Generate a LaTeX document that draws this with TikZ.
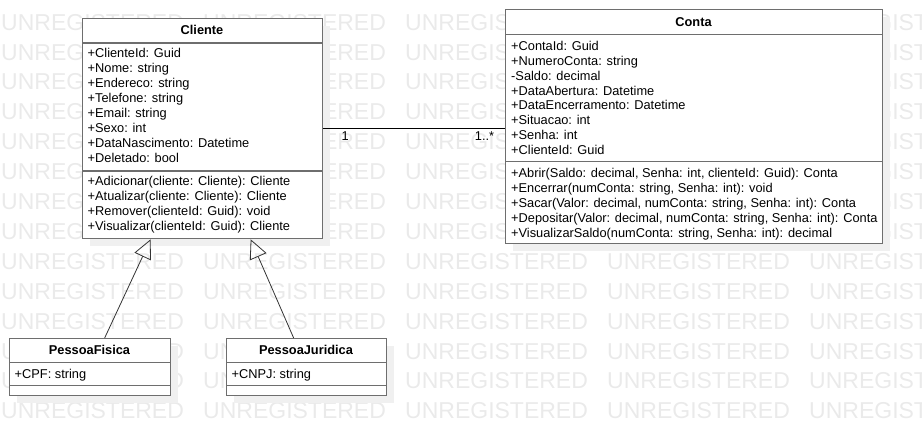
\documentclass[tikz,border=0pt]{standalone}
\usepackage{fontspec}
\setmainfont{Liberation Sans}
\usetikzlibrary{arrows.meta,shadows}
\definecolor{borda}{RGB}{110,110,110}
\definecolor{marca}{RGB}{234,234,234}

\begin{document}
\begin{tikzpicture}[x=1pt,y=-1pt,
  classe/.style={draw=borda, line width=1.3pt, fill=white, anchor=north west, inner sep=0pt,
    drop shadow={shadow xshift=7pt, shadow yshift=-7pt, fill=black!6, opacity=1}},
  titulo/.style={anchor=base, inner sep=0pt, font=\fontsize{12.8}{15}\selectfont\bfseries},
  membro/.style={anchor=base west, inner sep=0pt, font=\fontsize{12.8}{15}\selectfont},
  linha/.style={draw=borda, line width=1.3pt},
  heranca/.style={draw=black!80, line width=0.8pt, -{Triangle[open, length=19pt, width=18pt]}},
  wm/.style={anchor=base west, inner sep=0pt, text=marca, font=\fontsize{23}{23}\selectfont}]
\useasboundingbox (0,0) rectangle (922,435);
\begin{scope}
\clip (0,0) rectangle (922,435);
\foreach \r in {0,...,13}
  \foreach \c in {0,...,4}
    \node[wm] (wm-\r-\c) at (1+202*\c, 30.2+29.9*\r) {UNREGISTERED};
\end{scope}

\node[classe, minimum width=240, minimum height=220] (cliente) at (82,18) {};
\node[classe, minimum width=377, minimum height=234] (conta) at (505,9) {};
\node[classe, minimum width=161, minimum height=57] (pf) at (9,338) {};
\node[classe, minimum width=160, minimum height=57] (pj) at (226,338) {};

\draw[linha] (cliente.west |- 0,43) -- (cliente.east |- 0,43);
\draw[linha] (cliente.west |- 0,171) -- (cliente.east |- 0,171);
\draw[linha] (conta.west |- 0,34.5) -- (conta.east |- 0,34.5);
\draw[linha] (conta.west |- 0,161.7) -- (conta.east |- 0,161.7);
\draw[linha] (pf.west |- 0,362.3) -- (pf.east |- 0,362.3);
\draw[linha] (pf.west |- 0,385.7) -- (pf.east |- 0,385.7);
\draw[linha] (pj.west |- 0,362.3) -- (pj.east |- 0,362.3);
\draw[linha] (pj.west |- 0,385.7) -- (pj.east |- 0,385.7);

\node[titulo] (cliente-nome) at (202,35) {Cliente};
\foreach \t [count=\i from 0] in {+ClienteId: Guid, +Nome: string, +Endereco: string,
    +Telefone: string, +Email: string, +Sexo: int, +DataNascimento: Datetime, +Deletado: bool}
  \node[membro] (cliente-a\i) at (87.5, 58+14.9*\i) {\t};
\foreach \t [count=\i from 0] in {{+Adicionar(cliente: Cliente): Cliente},
    {+Atualizar(cliente: Cliente): Cliente}, {+Remover(clienteId: Guid): void},
    {+Visualizar(clienteId: Guid): Cliente}}
  \node[membro] (cliente-m\i) at (87.5, 186+14.9*\i) {\t};

\node[titulo] (conta-nome) at (693.5,26.5) {Conta};
\foreach \t [count=\i from 0] in {+ContaId: Guid, +NumeroConta: string, -Saldo: decimal,
    +DataAbertura: Datetime, +DataEncerramento: Datetime, +Situacao: int, +Senha: int, +ClienteId: Guid}
  \node[membro] (conta-a\i) at (511, 50.7+14.8*\i) {\t};
\foreach \t [count=\i from 0] in {{+Abrir(Saldo: decimal, Senha: int, clienteId: Guid): Conta},
    {+Encerrar(numConta: string, Senha: int): void},
    {+Sacar(Valor: decimal, numConta: string, Senha: int): Conta},
    {+Depositar(Valor: decimal, numConta: string, Senha: int): Conta},
    {+VisualizarSaldo(numConta: string, Senha: int): decimal}}
  \node[membro] (conta-m\i) at (511, 178+14.85*\i) {\t};

\node[titulo] (pf-nome) at (89.5,354.5) {PessoaFisica};
\node[membro] (pf-a0) at (14.5,378.5) {+CPF: string};
\node[titulo] (pj-nome) at (306,354.5) {PessoaJuridica};
\node[membro] (pj-a0) at (231.5,378.5) {+CNPJ: string};

\draw[black, line width=0.8pt] (cliente.east) -- (cliente.east -| conta.west)
  node[membro, pos=0, anchor=base, xshift=22, yshift=-12] (mult-cliente) {1}
  node[membro, pos=1, anchor=base, xshift=-20.5, yshift=-12] (mult-conta) {1..*};
\draw[heranca] ([xshift=14.5]pf.north) -- ([xshift=-52]cliente.south);
\draw[heranca] ([xshift=-13]pj.north) -- ([xshift=48]cliente.south);
\end{tikzpicture}
\end{document}
